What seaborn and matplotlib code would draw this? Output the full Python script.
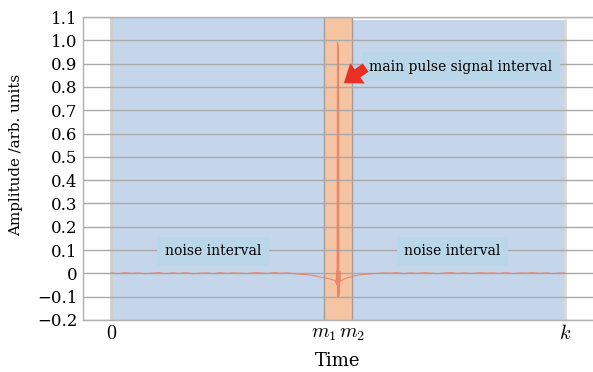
import matplotlib
matplotlib.use("Agg")
import matplotlib.pyplot as plt
import seaborn as sns
import pandas as pd

# ---- data ----
time_left = [0, 15, 30, 45, 60, 75, 90, 105, 120, 135, 150, 165, 180, 195, 210, 225, 240, 255,
             270, 285, 300, 315, 330, 345, 360, 375, 390, 405, 420, 435, 445, 455, 462, 468]
amp_left = [0.002, -0.001, 0.003, 0.000, 0.002, -0.002, 0.001, 0.003, -0.001, 0.002, 0.000, 0.003,
            -0.002, 0.001, 0.002, -0.001, 0.003, 0.000, 0.002, 0.001, -0.001, 0.003, 0.002, 0.000,
            0.003, 0.001, 0.002, -0.002, -0.004, -0.006, -0.009, -0.013, -0.016, -0.018]
time_mid = [472, 478, 484, 490, 494, 496, 497, 498, 499, 500, 501, 502, 503, 504, 505, 507, 510,
            514, 520, 526, 532]
amp_mid = [-0.020, -0.022, -0.025, -0.028, -0.032, -0.040, 0.010, -0.050, 0.990, -0.100, 0.980,
           -0.095, -0.040, 0.008, -0.035, -0.032, -0.028, -0.024, -0.020, -0.016, -0.012]
time_right = [540, 550, 560, 572, 585, 600, 615, 630, 645, 660, 675, 690, 705, 720, 735, 750,
              765, 780, 795, 810, 825, 840, 855, 870, 885, 900, 915, 930, 945, 960, 975, 990, 1000]
amp_right = [-0.009, -0.006, -0.004, -0.002, 0.000, 0.002, 0.001, 0.003, -0.001, 0.002, 0.000,
             0.003, 0.001, -0.001, 0.002, 0.003, 0.000, 0.002, -0.001, 0.003, 0.001, 0.002,
             0.000, 0.003, -0.001, 0.002, 0.001, 0.003, 0.000, 0.002, -0.001, 0.002, 0.001]

m1, m2, k = 469, 531, 1000
xtick_pos = [0, m1, m2, k]
xtick_labels = [r"$0$", r"$m_1$", r"$m_2$", r"$k$"]
ytick_vals = [-0.2, -0.1, 0, 0.1, 0.2, 0.3, 0.4, 0.5, 0.6, 0.7, 0.8, 0.9, 1.0, 1.1]
ytick_labels = ["\u22120.2", "\u22120.1", "0", "0.1", "0.2", "0.3", "0.4", "0.5", "0.6", "0.7",
                "0.8", "0.9", "1.0", "1.1"]

df = pd.DataFrame({"Time": time_left + time_mid + time_right,
                   "Amplitude": amp_left + amp_mid + amp_right})

# ---- style ----
sns.set_theme(style="whitegrid")
plt.rcParams["font.family"] = ["DejaVu Serif"]
plt.rcParams["mathtext.fontset"] = "cm"
for key in ["text.color", "axes.labelcolor", "xtick.color", "ytick.color"]:
    plt.rcParams[key] = "black"

fig = plt.figure(figsize=(5.93, 3.72), dpi=100)
ax = fig.add_axes([83 / 593, 52 / 372, 510 / 593, 303 / 372])

blue = "#c5d5ea"
orange = "#f4c4a3"
box = "#bad6e9"

ax.axvspan(0, m1, ymin=0, ymax=1, color=blue, zorder=0.2, lw=0)
ax.axvspan(m2, k, ymin=0, ymax=0.99, color=blue, zorder=0.2, lw=0)
ax.axvspan(m1, m2, ymin=0, ymax=1, color=orange, zorder=0.2, lw=0)
ax.axvline(0, color="#cfcfcf", lw=2, zorder=0.3)
ax.axvline(k, color="#d8d8d8", lw=2, ymax=0.99, zorder=0.3)
ax.axvline(m1, color="#a89c9a", lw=1, zorder=0.3)
ax.axvline(m2, color="#a89c9a", lw=1, zorder=0.3)

sns.lineplot(data=df, x="Time", y="Amplitude", ax=ax, color="#ea7c62", lw=0.8, alpha=0.85,
             zorder=3, estimator=None, sort=False)

ax.set_xlim(-62, 1062)
ax.set_ylim(-0.2, 1.1)
ax.set_yticks(ytick_vals)
ax.set_yticklabels(ytick_labels, fontsize=12)
ax.set_xticks(xtick_pos)
ax.set_xticklabels(xtick_labels, fontsize=14.5)
ax.grid(axis="y", color="#a9a9a9", lw=1)
ax.grid(axis="x", visible=False)
ax.set_axisbelow(True)
ax.tick_params(axis="both", length=0, pad=4)
ax.tick_params(axis="x", pad=3)

for s in ["left", "bottom", "top"]:
    ax.spines[s].set_color("#b0b0b0")
    ax.spines[s].set_linewidth(1)
ax.spines["right"].set_visible(False)

ax.set_xlabel("Time", fontsize=13, labelpad=6)
ax.set_ylabel("Amplitude /arb. units", fontsize=10.8)
ax.yaxis.set_label_coords(-0.118, 0.545)

bbox = dict(boxstyle="square,pad=0.55", fc=box, ec="none")
ax.text(225, 0.095, "noise interval", fontsize=10, ha="center", va="center", bbox=bbox, zorder=4)
ax.text(752, 0.095, "noise interval", fontsize=10, ha="center", va="center", bbox=bbox, zorder=4)
ax.text(771, 0.885, "main pulse signal interval", fontsize=10, ha="center", va="center",
        bbox=bbox, zorder=4)
ax.annotate("", xy=(508, 0.81), xytext=(566, 0.89),
            arrowprops=dict(arrowstyle="simple,head_width=1.5,head_length=1.0,tail_width=0.6",
                            color="#ea2f25", lw=0), zorder=5)

fig.savefig("out.png", dpi=100)
